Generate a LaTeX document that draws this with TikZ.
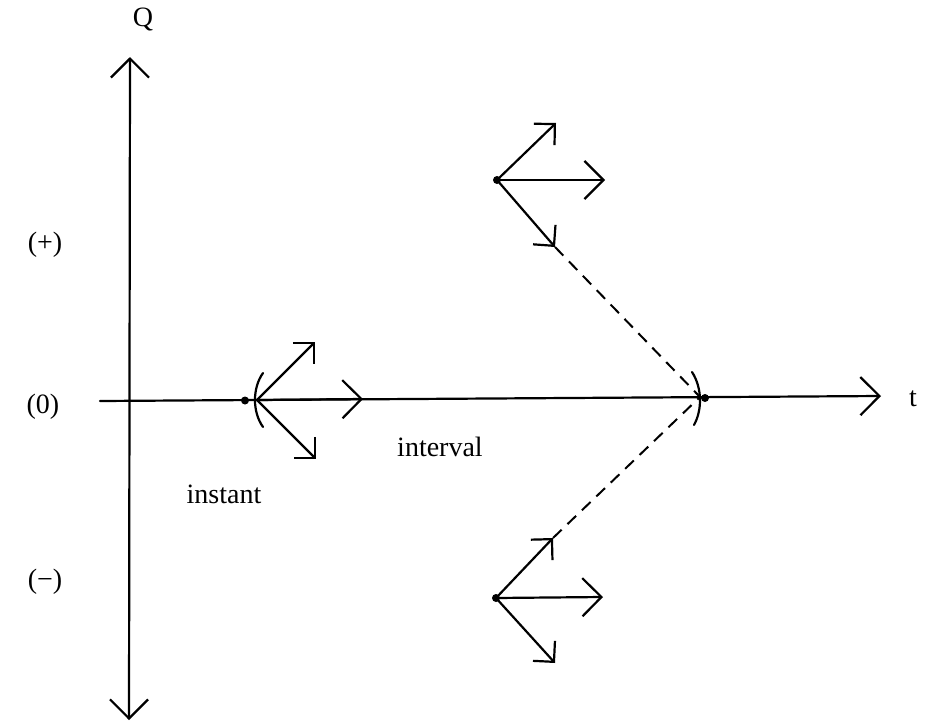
\documentclass[tikz,border=0pt]{standalone}
\usepackage{fontspec}
\setmainfont{Liberation Serif}
\usetikzlibrary{arrows.meta}
\tikzset{
  ln/.style={line width=2.2pt, line cap=round, line join=miter},
  axtip/.style={-{Straight Barb[angle=90:27pt, line width=2.2pt]}},
  axboth/.style={{Straight Barb[angle=90:27pt, line width=2.2pt]}-{Straight Barb[angle=90:27pt, line width=2.2pt]}},
  htip/.style={-{Straight Barb[angle=90:27pt, line width=2.2pt]}},
  dtip/.style={-{Straight Barb[angle=90:21pt, line width=2.2pt]}},
  dashln/.style={line width=2pt, dash pattern=on 12pt off 8pt},
  lbl/.style={inner sep=0pt, font=\fontsize{28}{31}\selectfont},
  dotn/.style={circle, fill=black, inner sep=0pt, minimum size=8pt}
}
\begin{document}
\begin{tikzpicture}[x=1pt, y=-1pt]
\useasboundingbox (0,0) rectangle (930,723);
% axes
\coordinate (vb) at (129,720);
\coordinate (vt) at (130,57);
\coordinate (hl) at (100,401);
\coordinate (hr) at (881,396);
\draw[ln, axboth] (vb) -- (vt);
\draw[ln, axtip] (hl) -- (hr);
% labels
\node[lbl] (q) at (143,19) {Q};
\node[lbl] (t) at (913,399) {t};
\node[lbl] (plus) at (45,245) {(+)};
\node[lbl] (zero) at (43,407) {(0)};
\node[lbl] (minus) at (45,582) {(−)};
\node[lbl] (instant) at (224,494) {instant};
\node[lbl] (interval) at (440,447) {interval};
% left cluster
\node[dotn] (L) at (245,400.5) {};
\coordinate (LV) at (257,400);
\coordinate (LA) at (315,342);
\coordinate (LB) at (363,399);
\coordinate (LC) at (316,459);
\draw[ln] (263,373) .. controls (252.3,388) and (252.3,412) .. (263,427);
\draw[ln, dtip] (LV) -- (LA);
\draw[ln, htip] (LV) -- (LB);
\draw[ln, dtip] (LV) -- (LC);
% right point
\node[dotn] (R) at (705,398) {};
\coordinate (RV) at (700,397);
\draw[ln] (692,372) .. controls (702.3,388) and (702.3,410) .. (694,425);
% upper cluster
\node[dotn] (U) at (497,180) {};
\coordinate (UA) at (556,123);
\coordinate (UB) at (605,180);
\coordinate (UC) at (555,247);
\draw[ln, dtip] (U.center) -- (UA);
\draw[ln, htip] (U.center) -- (UB);
\draw[ln, dtip] (U.center) -- (UC);
\draw[dashln] (UC) -- (RV);
% lower cluster
\node[dotn] (D) at (496,598) {};
\coordinate (DA) at (553,538);
\coordinate (DB) at (603,597);
\coordinate (DC) at (555,663);
\draw[ln, dtip] (D.center) -- (DA);
\draw[ln, htip] (D.center) -- (DB);
\draw[ln, dtip] (D.center) -- (DC);
\draw[dashln] (DA) -- (RV);
\end{tikzpicture}
\end{document}
